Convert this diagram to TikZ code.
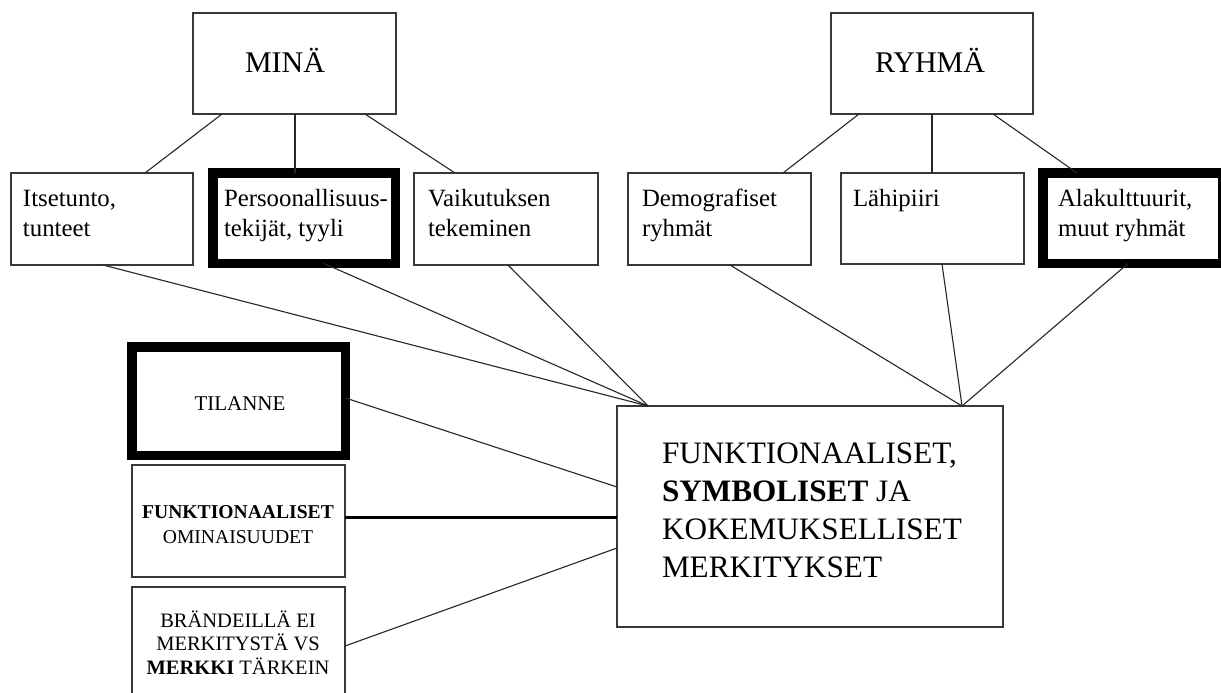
\documentclass[tikz,border=0pt]{standalone}
\usepackage{fontspec}
\setmainfont{Liberation Serif}
\newcommand{\toprows}[1]{\begin{tabular}[t]{@{}l@{}}#1\end{tabular}}
\newcommand{\midrows}[1]{\begin{tabular}[t]{@{}c@{}}#1\end{tabular}}
\begin{document}
\begin{tikzpicture}[x=1pt,y=-1pt,
  box/.style={draw=black!78, line width=1.6pt, rectangle, inner sep=0pt, outer sep=0pt, fill=white},
  heavy/.style={draw=black, line width=9.5pt, rectangle, inner sep=0pt, outer sep=0pt, fill=white},
  link/.style={draw=black!85, line width=1.1pt},
  boldlink/.style={draw=black, line width=3pt},
  txt/.style={inner sep=0pt, outer sep=0pt, anchor=base west},
  ctxt/.style={inner sep=0pt, outer sep=0pt, anchor=base},
  headfont/.style={font=\fontsize{30}{36}\selectfont},
  smallfont/.style={font=\fontsize{24.8}{30}\selectfont},
  bigfont/.style={font=\fontsize{31.2}{38}\selectfont}]

\fill[white] (0,0) rectangle (1221,693);
\useasboundingbox (0,0) rectangle (1221,693);

% upper level
\node[box, minimum width=203pt, minimum height=101pt] (mina) at (294.5,63.5) {};
\node[box, minimum width=202pt, minimum height=101pt] (ryhma) at (932,63.5) {};

% second level
\node[box, minimum width=182pt, minimum height=92pt] (itse) at (102,219) {};
\node[heavy, minimum width=182.5pt, minimum height=90.5pt] (pers) at (304.25,218.25) {};
\node[box, minimum width=184pt, minimum height=92pt] (vaik) at (506,219) {};
\node[box, minimum width=183pt, minimum height=92pt] (demo) at (719.5,219) {};
\node[box, minimum width=183pt, minimum height=91pt] (lahi) at (932.5,218.5) {};
\node[heavy, minimum width=180pt, minimum height=90.5pt] (ala) at (1133,218.25) {};

% left column
\node[heavy, minimum width=213.5pt, minimum height=108.5pt] (til) at (238.75,401.25) {};
\node[box, minimum width=213pt, minimum height=112pt] (omin) at (238.5,521) {};
\node[box, minimum width=213pt, minimum height=118pt] (brand) at (238.5,646) {};

% central box
\node[box, minimum width=386pt, minimum height=221pt] (merk) at (810,516.5) {};

% texts
\node[txt, headfont] (mina-t) at (245,73) {MINÄ};
\node[txt, headfont] (ryhma-t) at (875,73) {RYHMÄ};
\node[txt, smallfont] (itse-t) at (23,206) {\toprows{Itsetunto,\\tunteet}};
\node[txt, smallfont] (pers-t) at (224,206) {\toprows{Persoonallisuus-\\tekijät, tyyli}};
\node[txt, smallfont] (vaik-t) at (428,206) {\toprows{Vaikutuksen\\tekeminen}};
\node[txt, smallfont] (demo-t) at (642,206) {\toprows{Demografiset\\ryhmät}};
\node[txt, smallfont] (lahi-t) at (853,206) {Lähipiiri};
\node[txt, smallfont] (ala-t) at (1058,206) {\toprows{Alakulttuurit,\\muut ryhmät}};
\node[ctxt, font=\fontsize{21}{25}\selectfont] (til-t) at (240,410) {TILANNE};
\node[ctxt, font=\fontsize{19.6}{25}\selectfont] (omin-t) at (238,518)
  {\midrows{\textbf{FUNKTIONAALISET}\\OMINAISUUDET}};
\node[ctxt, font=\fontsize{20.5}{23}\selectfont] (brand-t) at (238,627)
  {\midrows{BRÄNDEILLÄ EI\\MERKITYSTÄ VS\\\textbf{MERKKI} TÄRKEIN}};
\node[txt, bigfont] (merk-t) at (662,463)
  {\toprows{FUNKTIONAALISET,\\\textbf{SYMBOLISET} JA\\KOKEMUKSELLISET\\MERKITYKSET}};

% connectors from MINÄ
\draw[link] ([xshift=29pt]mina.south west) -- ([xshift=134pt]itse.north west);
\draw[link] ([xshift=0.5pt]mina.south) -- ([xshift=-9.25pt]pers.north);
\draw[link] ([xshift=-31pt]mina.south east) -- ([xshift=41pt]vaik.north west);

% connectors from RYHMÄ
\draw[link] ([xshift=28pt]ryhma.south west) -- ([xshift=155pt]demo.north west);
\draw[link] (ryhma.south) -- (ryhma.south |- lahi.north);
\draw[link] ([xshift=-40pt]ryhma.south east) -- ([xshift=34pt]ala.north west);

% connectors into the central box
\draw[link] ([xshift=92pt]itse.south west) -- ([xshift=31pt]merk.north west);
\draw[link] ([xshift=111pt]pers.south west) -- ([xshift=31pt]merk.north west);
\draw[link] ([xshift=94pt]vaik.south west) -- ([xshift=31pt]merk.north west);
\draw[link] ([xshift=102pt]demo.south west) -- ([xshift=345pt]merk.north west);
\draw[link] ([xshift=101pt]lahi.south west) -- ([xshift=345pt]merk.north west);
\draw[link] ([xshift=85pt]ala.south west) -- ([xshift=345pt]merk.north west);
\draw[link] ([yshift=3.25pt]til.east) -- ([yshift=29.5pt]merk.west);
\draw[boldlink] ([yshift=4pt]omin.east) -- ([yshift=4pt]omin.east -| merk.west);
\draw[link] (brand.east) -- ([yshift=-31.5pt]merk.west);
\end{tikzpicture}
\end{document}
